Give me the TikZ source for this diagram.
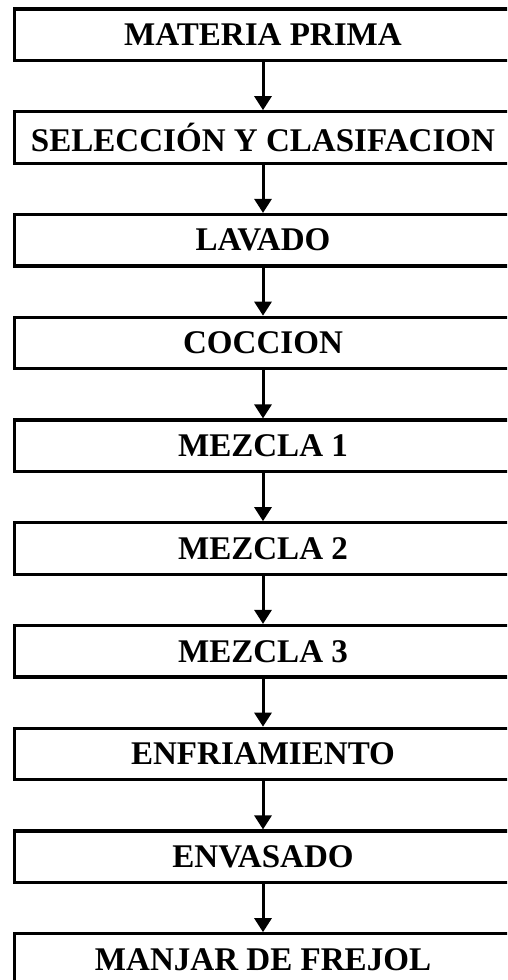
\documentclass[tikz,border=0pt]{standalone}
\usepackage{fontspec}
\setmainfont{Liberation Serif}
\usetikzlibrary{arrows.meta}

\begin{document}
\begin{tikzpicture}[x=0.75pt,y=-0.75pt]
  \path[use as bounding box,clip] (0,0) rectangle (507,980);
  % process steps, one box every 102.75 units
  \foreach \t [count=\i from 0] in {MATERIA PRIMA,SELECCIÓN Y CLASIFACION,LAVADO,COCCION,MEZCLA 1,MEZCLA 2,MEZCLA 3,ENFRIAMIENTO,ENVASADO,MANJAR DE FREJOL}
    \node[draw,line width=2.4pt,minimum width=372.75pt,minimum height=38.6pt,inner sep=0pt,
      font=\bfseries\fontsize{24.8}{28}\selectfont] (p\i) at (263,34.75+102.75*\i) {\t};
  \foreach \i [evaluate=\i as \j using int(\i+1)] in {0,...,8}
    \draw[line width=2.25pt,-{Triangle[width=12.75pt,length=10.5pt]}] (p\i) -- (p\j);
\end{tikzpicture}
\end{document}
